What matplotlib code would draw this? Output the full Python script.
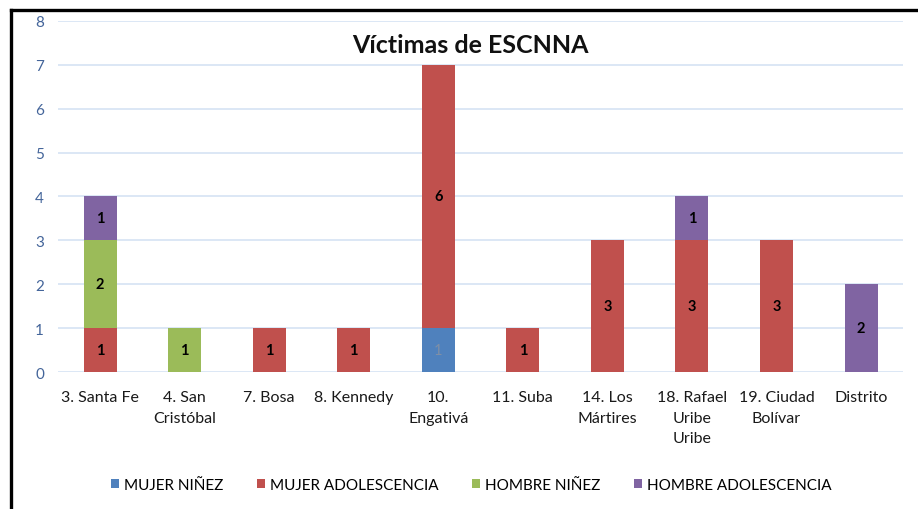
import numpy as np
import matplotlib.pyplot as plt
from matplotlib.lines import Line2D

plt.rcParams['font.family'] = ['Lato', 'DejaVu Sans']

localidades = ["3. Santa Fe", "4. San\nCristóbal", "7. Bosa", "8. Kennedy", "10.\nEngativá",
               "11. Suba", "14. Los\nMártires", "18. Rafael\nUribe\nUribe", "19. Ciudad\nBolívar", "Distrito"]
mujer_ninez = [0, 0, 0, 0, 1, 0, 0, 0, 0, 0]
mujer_adol = [1, 0, 1, 1, 6, 1, 3, 3, 3, 0]
hombre_ninez = [2, 1, 0, 0, 0, 0, 0, 0, 0, 0]
hombre_adol = [1, 0, 0, 0, 0, 0, 0, 1, 0, 2]

series = [("MUJER NIÑEZ", mujer_ninez, "#4F81BD", "#7f8fa6"),
          ("MUJER ADOLESCENCIA", mujer_adol, "#C0504D", "black"),
          ("HOMBRE NIÑEZ", hombre_ninez, "#9BBB59", "black"),
          ("HOMBRE ADOLESCENCIA", hombre_adol, "#8064A2", "black")]

fig = plt.figure(figsize=(9.18, 5.10), dpi=100)
ax = fig.add_axes([0.063, 0.2686, 0.921, 0.6884])

x = np.arange(len(localidades))
bottom = np.zeros(len(localidades))
for name, vals, col, tcol in series:
    vals = np.array(vals, dtype=float)
    bars = ax.bar(x, vals, 0.39, bottom=bottom, color=col, label=name, zorder=3)
    for b, v, bt in zip(bars, vals, bottom):
        if v > 0:
            ax.text(b.get_x() + b.get_width() / 2, bt + v / 2, str(int(v)), ha='center', va='center',
                    fontsize=10.5, fontweight='bold' if tcol == 'black' else 'normal', color=tcol, zorder=4)
    bottom += vals

ax.set_ylim(0, 8)
ax.set_xlim(-0.5, len(localidades) - 0.5)
ax.set_yticks(range(9))
ax.yaxis.grid(True, color='#D6E3F3', linewidth=1.2, zorder=0)
for s in ax.spines.values():
    s.set_visible(False)
ax.tick_params(axis='both', length=0)
ax.tick_params(axis='y', labelcolor='#44659a', labelsize=11, pad=10)
ax.set_xticks(x)
ax.set_xticklabels(localidades, fontsize=11.5, color='#1a1a1a', linespacing=1.6)
ax.tick_params(axis='x', pad=13)

fig.text(0.512, 0.91, "Víctimas de ESCNNA", ha='center', va='center', fontsize=18, fontweight='bold', color='#111111')

fig.legend(loc='center', bbox_to_anchor=(0.513, 0.048), ncol=4, frameon=False, fontsize=11,
           handlelength=0.55, handleheight=0.55, handletextpad=0.3, columnspacing=2.2)

# frame edges from the original screenshot
fig.add_artist(Line2D([11 / 918, 11 / 918], [0, 1 - 11 / 510], color='black', linewidth=2.4, transform=fig.transFigure))
fig.add_artist(Line2D([11 / 918, 1], [1 - 11 / 510, 1 - 11 / 510], color='black', linewidth=2.4, transform=fig.transFigure))

fig.savefig("out.png", dpi=100)
